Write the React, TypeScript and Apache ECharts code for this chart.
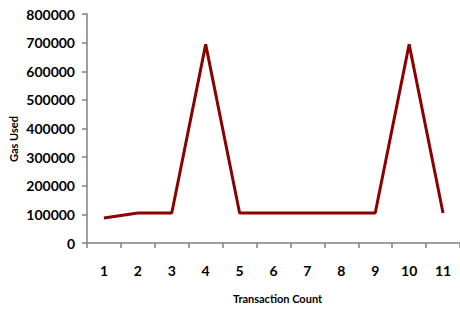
import React, { useEffect, useRef } from "react";
import * as echarts from "echarts";

const categories = ["1", "2", "3", "4", "5", "6", "7", "8", "9", "10", "11"];
const gasUsed = [87000, 105000, 105000, 694000, 105000, 105000, 105000, 105000, 105000, 694000, 105000];
const xTitle = "Transaction Count";
const yTitle = "Gas Used";

export default function App() {
  const ref = useRef<HTMLDivElement>(null);
  useEffect(() => {
    const chart = echarts.init(ref.current!, null, { renderer: "svg" });
    const font = "Lato";
    chart.setOption({
      animation: false,
      grid: { left: 87, right: 0, top: 14, bottom: 66 },
      graphic: [
        {
          type: "text",
          x: 13,
          y: 139,
          rotation: Math.PI / 2,
          style: {
            text: yTitle,
            fill: "#000",
            fontWeight: "bold",
            fontFamily: font,
            fontSize: 11,
            align: "center",
            verticalAlign: "middle",
          },
        },
      ],
      xAxis: {
        type: "category",
        data: categories,
        boundaryGap: true,
        axisLine: { lineStyle: { color: "#808080", width: 1.5 } },
        axisTick: { show: true, length: 5, lineStyle: { color: "#808080", width: 1.5 } },
        axisLabel: { color: "#000", fontWeight: "bold", fontFamily: font, fontSize: 14, margin: 20 },
        splitLine: { show: false },
        name: xTitle,
        nameLocation: "middle",
        nameGap: 50,
        nameTextStyle: { color: "#000", fontWeight: "bold", fontFamily: font, fontSize: 11, padding: [0, 0, 0, 8] },
      },
      yAxis: {
        type: "value",
        min: 0,
        max: 800000,
        interval: 100000,
        axisLine: { show: true, lineStyle: { color: "#808080", width: 1.5 } },
        axisTick: { show: true, length: 5, lineStyle: { color: "#808080", width: 1.5 } },
        axisLabel: {
          color: "#000",
          fontWeight: "bold",
          fontFamily: font,
          fontSize: 14,
          margin: 12,
          formatter: (v: number) => String(v),
        },
        splitLine: { show: false },
      },
      series: [
        {
          type: "line",
          data: gasUsed,
          symbol: "none",
          lineStyle: { color: "#8B0000", width: 3 },
          itemStyle: { color: "#8B0000" },
        },
      ],
    });
    return () => chart.dispose();
  }, []);
  return <div ref={ref} style={{ width: 460, height: 309, position: "absolute", left: 0, top: 0 }} />;
}
